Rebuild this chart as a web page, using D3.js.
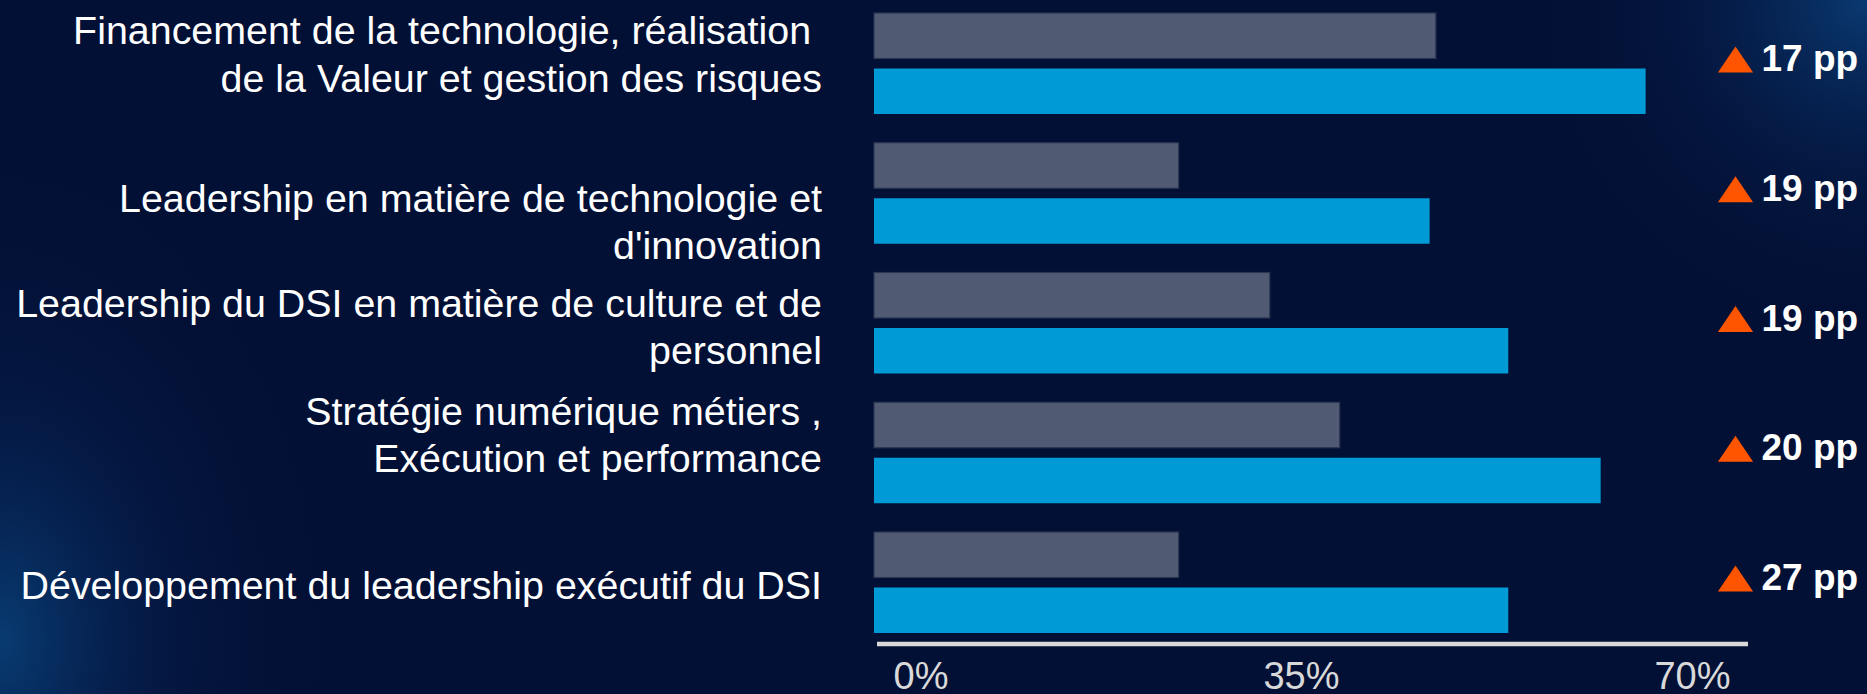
<!DOCTYPE html>
<html><head><meta charset="utf-8">
<script src="https://cdn.jsdelivr.net/npm/d3@7"></script>
<style>html,body{margin:0;padding:0;background:#031035;overflow:hidden}</style>
</head><body><svg id="c" width="1867" height="694"></svg>
<script>
// ---- data ----
const categories = [
  "Financement de la technologie, réalisation \nde la Valeur et gestion des risques",
  "Leadership en matière de technologie et\nd'innovation",
  "Leadership du DSI en matière de culture et de\npersonnel",
  "Stratégie numérique métiers ,\nExécution et performance",
  "Développement du leadership exécutif du DSI"
];
const seriesKeys = ["autres", "leaders"];
const autresValues = [45.0, 24.4, 31.7, 37.3, 24.4];
const leadersValues = [61.8, 44.5, 50.8, 58.2, 50.8];
const deltaValues = [17, 19, 19, 20, 27];
const tickValues = [0, 35, 70];
const tickLabels = ["0%", "35%", "70%"];

// ---- layout ----
const W = 1867, H = 694;
const FONT = "'Liberation Sans', Arial, sans-serif";
const labelNudge = [-9.5, 28, 3.5, -18, 2];   // per-label vertical nudges (layout)
const lineH = 47.4;

const svg = d3.select("#c");
const defs = svg.append("defs");

const g1 = defs.append("radialGradient").attr("id", "glowL")
  .attr("gradientUnits", "userSpaceOnUse")
  .attr("cx", 0).attr("cy", 640).attr("r", 440)
  .attr("gradientTransform", "translate(0,640) scale(0.75,1.1) translate(0,-640)");
g1.append("stop").attr("offset", "0").attr("stop-color", "#0a4a86").attr("stop-opacity", 0.75);
g1.append("stop").attr("offset", "0.45").attr("stop-color", "#08306a").attr("stop-opacity", 0.3);
g1.append("stop").attr("offset", "1").attr("stop-color", "#031035").attr("stop-opacity", 0);

const g2 = defs.append("radialGradient").attr("id", "glowR")
  .attr("gradientUnits", "userSpaceOnUse")
  .attr("cx", W).attr("cy", 0).attr("r", 330);
g2.append("stop").attr("offset", "0").attr("stop-color", "#0b3e78").attr("stop-opacity", 0.9);
g2.append("stop").attr("offset", "0.5").attr("stop-color", "#072a5e").attr("stop-opacity", 0.35);
g2.append("stop").attr("offset", "1").attr("stop-color", "#031035").attr("stop-opacity", 0);

svg.append("rect").attr("width", W).attr("height", H).attr("fill", "#031035");
svg.append("rect").attr("width", W).attr("height", H).attr("fill", "url(#glowL)");
svg.append("rect").attr("width", W).attr("height", H).attr("fill", "url(#glowR)");

const x = d3.scaleLinear().domain([0, 70]).range([874, 1748]);
const y = d3.scaleBand().domain(categories).range([-1.375, 647.375])
  .paddingInner(0.2216).paddingOuter(0.1108);
const ySub = d3.scaleBand().domain(seriesKeys).range([0, y.bandwidth()]).paddingInner(0.18);
const color = d3.scaleOrdinal().domain(seriesKeys).range(["#515A73", "#009AD6"]);
const stroke = d3.scaleOrdinal().domain(seriesKeys).range(["#2B3552", "none"]);

const rows = categories.map((c, i) => ({
  cat: c, i,
  vals: [{k: "autres", v: autresValues[i]}, {k: "leaders", v: leadersValues[i]}],
  delta: deltaValues[i]
}));

// bars
const grp = svg.append("g").selectAll("g").data(rows).join("g")
  .attr("transform", d => `translate(0,${y(d.cat)})`);
grp.selectAll("rect").data(d => d.vals).join("rect")
  .attr("x", x(0))
  .attr("y", d => ySub(d.k))
  .attr("width", d => x(d.v) - x(0))
  .attr("height", ySub.bandwidth())
  .attr("fill", d => color(d.k))
  .attr("stroke", d => stroke(d.k))
  .attr("stroke-width", 1.2);

// category labels
svg.append("g").selectAll("text").data(rows).join("text")
  .attr("text-anchor", "end")
  .attr("font-family", FONT)
  .attr("font-size", 39.4)
  .attr("fill", "#ffffff")
  .style("white-space", "pre")
  .each(function(d) {
    const lines = d.cat.split("\n");
    const cy = y(d.cat) + y.bandwidth() / 2;
    const first = cy - (lines.length - 1) * lineH / 2 + 14 + labelNudge[d.i];
    d3.select(this).selectAll("tspan").data(lines).join("tspan")
      .attr("x", 822)
      .attr("y", (l, j) => first + j * lineH)
      .text(l => l);
  });

// axis
const axis = d3.axisBottom(x).tickValues(tickValues)
  .tickFormat((d, i) => tickLabels[i]).tickSize(0).tickSizeOuter(0).tickPadding(18);
const ax = svg.append("g").attr("transform", "translate(0,644)").call(axis);
ax.select(".domain").attr("stroke", "#D9D9D9").attr("stroke-width", 4.3)
  .attr("d", `M${x(0) + 3},0H${x(70)}`);
ax.selectAll(".tick text")
  .attr("font-family", FONT).attr("font-size", 38).attr("fill", "#D9D9D9")
  .attr("text-anchor", (d, i) => i === 0 ? "start" : (i === tickValues.length - 1 ? "end" : "middle"))
  .attr("dx", (d, i) => i === 0 ? 19 : (i === tickValues.length - 1 ? -18 : -10));

// delta labels
const dl = svg.append("g").selectAll("g").data(rows).join("g")
  .attr("transform", d => `translate(1761.5,${y(d.cat) + y.bandwidth() / 2 + 7.5})`);
dl.append("path").attr("d", "M-43.6,1.4L-26,-24.6L-8.4,1.4Z").attr("fill", "#FF5500");
dl.append("text")
  .attr("font-family", FONT).attr("font-weight", "bold").attr("font-size", 37)
  .attr("fill", "#ffffff")
  .text(d => `${d.delta} pp`);
</script>
</body></html>
